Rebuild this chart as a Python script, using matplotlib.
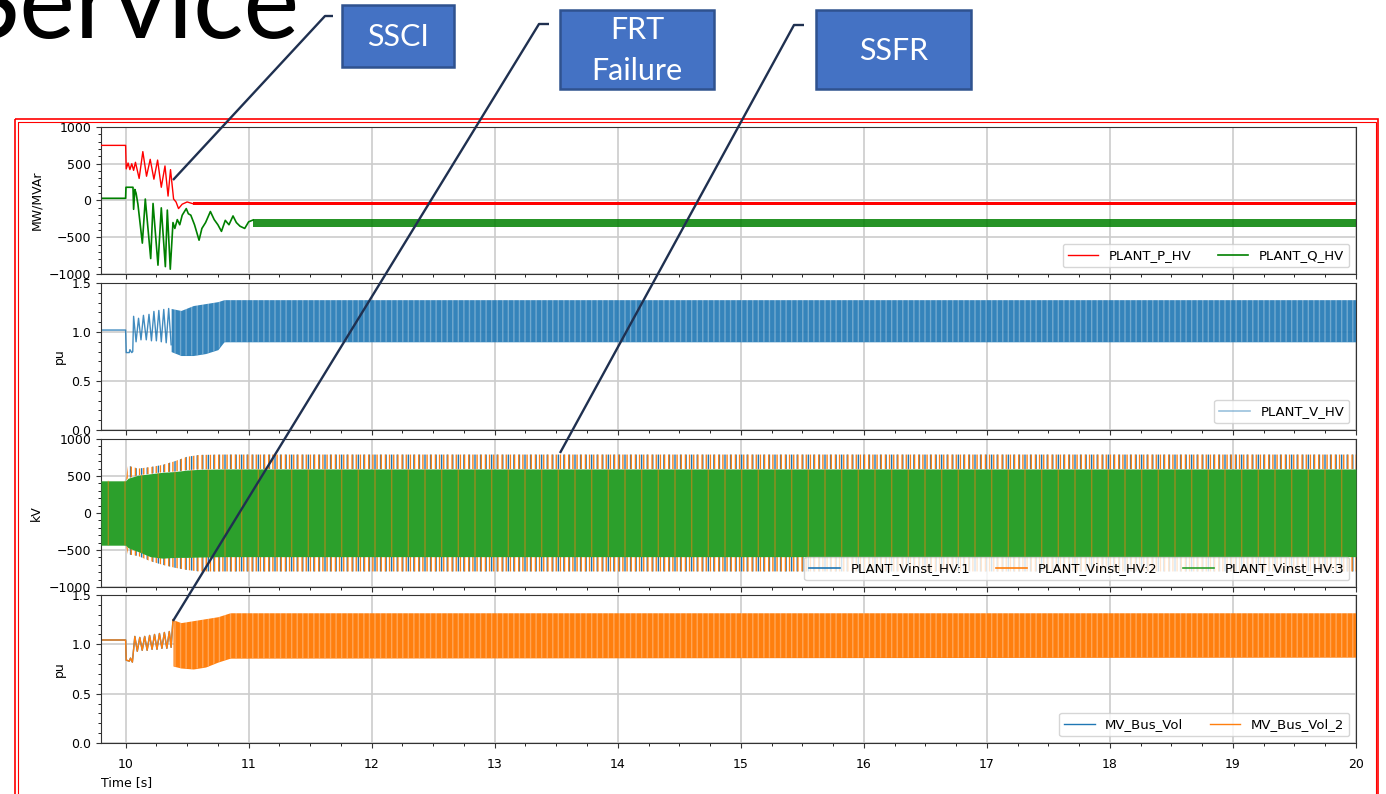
import matplotlib.pyplot as plt
from matplotlib.lines import Line2D
from matplotlib.patches import Rectangle
from matplotlib.ticker import AutoMinorLocator, MultipleLocator

plt.rcParams["font.family"] = ["DejaVu Sans"]
plt.rcParams["hatch.linewidth"] = 1.0

# ---- panel 1: plant P / Q at HV bus (MW / MVAr), transient part
p_t = [9.80, 10.000, 10.005, 10.020, 10.035, 10.050, 10.065, 10.080, 10.110, 10.140, 10.170,
       10.200, 10.230, 10.260, 10.290, 10.320, 10.345, 10.365, 10.390, 10.410, 10.430,
       10.460, 10.500, 10.550, 10.600]
p_v = [750, 750, 430, 510, 420, 500, 410, 520, 300, 665, 330,
       560, 290, 550, 180, 470, 60, 420, 20, -20, -110,
       -50, -20, -45, -40]
q_t = [9.80, 10.000, 10.003, 10.060, 10.065, 10.075, 10.085, 10.100, 10.136, 10.160,
       10.204, 10.223, 10.263, 10.290, 10.323, 10.339, 10.363, 10.385, 10.400, 10.420,
       10.440, 10.460, 10.493, 10.510, 10.530, 10.560, 10.597, 10.620, 10.650, 10.689,
       10.720, 10.750, 10.779, 10.810, 10.840, 10.873, 10.900, 10.930, 10.968, 11.000,
       11.036]
q_v = [30, 30, 180, 180, -120, 150, 100, -50, -580, 20,
       -790, -40, -880, -100, -900, -130, -935, -300, -380, -260,
       -330, -200, -110, -180, -200, -330, -540, -380, -300, -150,
       -260, -330, -420, -270, -330, -210, -300, -350, -380, -290,
       -265]
# ripple bands after the transient
p_band_t = [10.55, 20.0]
p_band_hi = [-22, -22]
p_band_lo = [-60, -60]
q_band_t = [11.036, 20.0]
q_band_hi = [-245, -245]
q_band_lo = [-365, -365]

# ---- panel 2: plant HV voltage (pu)
v_t = [9.80, 10.000, 10.005, 10.030, 10.035, 10.050, 10.058,
       10.065, 10.085, 10.105, 10.125, 10.145, 10.168, 10.190, 10.210, 10.230,
       10.250, 10.270, 10.290, 10.310, 10.330, 10.350, 10.370]
v_v = [1.02, 1.02, 0.79, 0.79, 0.82, 0.79, 0.80,
       1.16, 0.90, 1.14, 0.92, 1.17, 0.92, 1.18, 0.91, 1.21,
       0.91, 1.22, 0.90, 1.23, 0.89, 1.24, 0.87]
v_band_t = [10.37, 10.45, 10.55, 10.65, 10.75, 10.80, 20.0]
v_band_hi = [1.24, 1.22, 1.27, 1.29, 1.31, 1.33, 1.33]
v_band_lo = [0.80, 0.76, 0.76, 0.78, 0.82, 0.90, 0.90]

# ---- panel 3: instantaneous HV phase voltages (kV), envelopes
kv_t = [9.80, 10.00, 10.02, 10.10, 10.20, 10.30, 10.40, 10.50, 10.60, 10.80, 20.0]
kv3_hi = [435, 435, 470, 510, 530, 550, 560, 580, 590, 595, 595]
kv3_lo = [-435, -435, -470, -520, -590, -610, -600, -600, -595, -590, -590]
kv12_hi = [435, 435, 640, 600, 620, 650, 700, 760, 785, 790, 790]
kv12_lo = [-435, -435, -560, -580, -650, -700, -740, -770, -790, -790, -790]

# ---- panel 4: MV bus voltage (pu)
mv_t = [9.80, 10.000, 10.005, 10.030, 10.040, 10.055,
        10.075, 10.095, 10.115, 10.135, 10.155, 10.175, 10.195, 10.215, 10.235,
        10.255, 10.275, 10.295, 10.315, 10.335, 10.355, 10.370, 10.385]
mv_v = [1.044, 1.044, 0.84, 0.83, 0.86, 0.82,
        1.08, 0.93, 1.07, 0.94, 1.08, 0.94, 1.09, 0.95, 1.10,
        0.95, 1.11, 0.96, 1.12, 0.96, 1.13, 0.97, 1.25]
mv_band_t = [10.385, 10.45, 10.55, 10.65, 10.75, 10.85, 20.0]
mv_band_hi = [1.25, 1.22, 1.24, 1.26, 1.28, 1.32, 1.32]
mv_band_lo = [0.78, 0.76, 0.75, 0.77, 0.82, 0.86, 0.87]

W, H = 1386, 794
fig = plt.figure(figsize=(W / 100, H / 100), dpi=100)


def px_axes(left, top, right, bottom):
    return fig.add_axes([left / W, 1 - bottom / H, (right - left) / W, (bottom - top) / H])


def band(ax, t, lo, hi, color, alpha=1.0, stripe_alpha=0.3, zorder=2):
    ax.fill_between(t, lo, hi, color=color, alpha=alpha, lw=0, zorder=zorder)
    if stripe_alpha:
        ax.fill_between(t, lo, hi, facecolor="none", edgecolor=(1, 1, 1, stripe_alpha),
                        hatch="|||", lw=0, zorder=zorder)


ax1 = px_axes(101, 127, 1356, 274)
ax2 = px_axes(101, 283, 1356, 430)
ax3 = px_axes(101, 439, 1356, 587)
ax4 = px_axes(101, 595, 1356, 743)
axes = [ax1, ax2, ax3, ax4]

leg_kw = dict(loc="lower right", fontsize=9.5, handlelength=2.3)

# panel 1
ax1.plot(p_t, p_v, color="red", lw=1, label="PLANT_P_HV", zorder=3)
band(ax1, p_band_t, p_band_lo, p_band_hi, "red", stripe_alpha=0, zorder=3)
ax1.plot(q_t, q_v, color="green", lw=1.2, label="PLANT_Q_HV", zorder=2)
band(ax1, q_band_t, q_band_lo, q_band_hi, "green", alpha=0.85, stripe_alpha=0)
ax1.set_ylim(-1000, 1000)
ax1.set_yticks([-1000, -500, 0, 500, 1000])
ax1.set_ylabel("MW/MVAr", fontsize=9)
ax1.legend(ncol=2, **leg_kw)

# panel 2
ax2.plot(v_t, v_v, color="#1f77b4", lw=1, alpha=0.85)
band(ax2, v_band_t, v_band_lo, v_band_hi, "#1f77b4", alpha=0.9)
ax2.set_ylim(0, 1.5)
ax2.set_yticks([0, 0.5, 1.0, 1.5])
ax2.set_ylabel("pu", fontsize=9)
ax2.legend(handles=[Line2D([], [], color="#1f77b4", alpha=0.45, lw=1.2)],
           labels=["PLANT_V_HV"], **leg_kw)

# panel 3
for lo_env, hi_env in [(kv3_hi, kv12_hi), (kv12_lo, kv3_lo)]:
    ax3.fill_between(kv_t, lo_env, hi_env, facecolor="none", edgecolor="#1f77b4",
                     hatch="|||", lw=0, zorder=2)
    ax3.fill_between(kv_t, lo_env, hi_env, facecolor="none", edgecolor="#ff7f0e",
                     hatch="||||", lw=0, zorder=2)
ax3.fill_between(kv_t, kv3_lo, kv3_hi, color="#2ca02c", lw=0, zorder=3)
ax3.fill_between(kv_t, kv3_lo, kv3_hi, facecolor="none", edgecolor=(1.0, 0.5, 0.05, 0.5),
                 hatch="|", lw=0, zorder=3)
ax3.set_ylim(-1000, 1000)
ax3.set_yticks([-1000, -500, 0, 500, 1000])
ax3.set_ylabel("kV", fontsize=9)
ax3.legend(handles=[Line2D([], [], color=c, lw=1.2) for c in ["#1f77b4", "#ff7f0e", "#2ca02c"]],
           labels=["PLANT_Vinst_HV:1", "PLANT_Vinst_HV:2", "PLANT_Vinst_HV:3"],
           ncol=3, **leg_kw)

# panel 4
ax4.plot(mv_t, mv_v, color="#1f77b4", lw=1, label="MV_Bus_Vol")
ax4.plot(mv_t, mv_v, color="#ff7f0e", lw=1, label="MV_Bus_Vol_2")
band(ax4, mv_band_t, mv_band_lo, mv_band_hi, "#ff7f0e")
ax4.set_ylim(0, 1.5)
ax4.set_yticks([0, 0.5, 1.0, 1.5])
ax4.set_ylabel("pu", fontsize=9)
ax4.set_xlabel("Time [s]", fontsize=9, loc="left", labelpad=4)
ax4.legend(ncol=2, **leg_kw)

for ax in axes:
    ax.set_xlim(9.8, 20)
    ax.xaxis.set_major_locator(MultipleLocator(1))
    ax.xaxis.set_minor_locator(AutoMinorLocator(4))
    ax.yaxis.set_minor_locator(AutoMinorLocator(5))
    ax.grid(True, which="major", color="#cccccc", lw=1.2)
    ax.set_axisbelow(True)
    ax.tick_params(labelsize=9, direction="out", color="#333333")
    ax.tick_params(which="minor", length=2)
    for s in ax.spines.values():
        s.set_color("#333333")
for ax in axes[:-1]:
    ax.tick_params(labelbottom=False)
ax4.tick_params(axis="x", pad=7)

# ---- slide overlay: title fragment, callout boxes, leader lines, frame
ov = fig.add_axes([0, 0, 1, 1], zorder=10)
ov.set_xlim(0, W)
ov.set_ylim(H, 0)
ov.axis("off")

ov.text(300, 38, "Service", fontsize=76, family="Lato", ha="right", va="baseline", color="black")

ov.add_patch(Rectangle((15, 119), 1363, 700, fill=False, ec="red", lw=1.2))
ov.add_patch(Rectangle((18, 122), 1358, 700, fill=False, ec="red", lw=0.8))

callouts = [
    ("SSCI", (342, 5, 112, 62), [(333, 16), (325, 16), (173, 180)]),
    ("FRT\nFailure", (560, 10, 154, 79), [(549, 24), (539, 24), (173, 621)]),
    ("SSFR", (816, 10, 155, 79), [(804, 25), (794, 25), (560, 453)]),
]
for label, (bx, by, bw, bh), path in callouts:
    ov.add_patch(Rectangle((bx, by), bw, bh, fc="#4472C4", ec="#2F528F", lw=1.8))
    ov.text(bx + bw / 2, by + bh / 2 + 1, label, fontsize=22, family="Lato", color="white",
            ha="center", va="center", linespacing=1.6)
    xs, ys = zip(*path)
    ov.plot(xs, ys, color="#1F3050", lw=1.7, solid_capstyle="butt")

fig.savefig("out.png", dpi=100)
